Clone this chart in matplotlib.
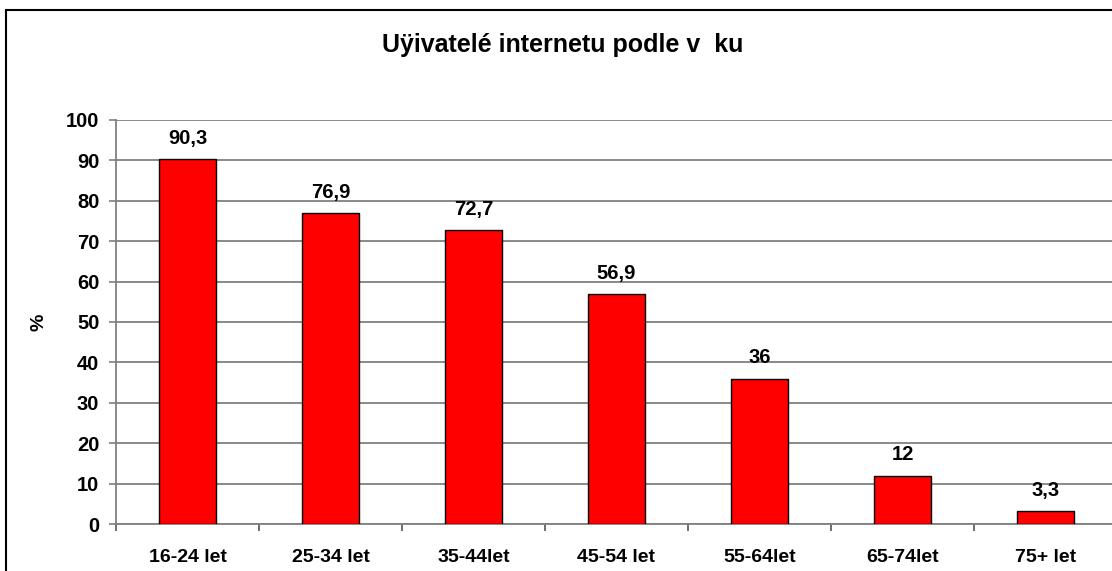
import matplotlib.pyplot as plt
import numpy as np
from matplotlib.patches import Rectangle

categories = ["16-24 let", "25-34 let", "35-44let", "45-54 let", "55-64let", "65-74let", "75+ let"]
values = [90.3, 76.9, 72.7, 56.9, 36, 12, 3.3]
value_labels = ["90,3", "76,9", "72,7", "56,9", "36", "12", "3,3"]
yticks = [0, 10, 20, 30, 40, 50, 60, 70, 80, 90, 100]

plt.rcParams['font.family'] = ['Liberation Sans', 'DejaVu Sans']
plt.rcParams['font.weight'] = 'bold'

fig = plt.figure(figsize=(11.12, 5.71), dpi=100)
ax = fig.add_axes([116 / 1112, 1 - 524 / 571, 1001 / 1112, 404 / 571])

x = np.arange(len(categories))
ax.bar(x, values, width=0.405, color='#FF0000', edgecolor='black', linewidth=1.0, zorder=3)

for xi, v, lbl in zip(x, values, value_labels):
    ax.annotate(lbl, (xi, v), xytext=(0, 8), textcoords='offset points',
                ha='center', va='bottom', fontsize=14.5, fontweight='bold')

ax.set_xlim(-0.5, len(categories) - 0.5)
ax.set_ylim(0, 100)
ax.set_yticks(yticks)
ax.set_yticklabels([str(t) for t in yticks], fontsize=14.5, fontweight='bold')
ax.yaxis.grid(True, color='#808080', linewidth=1.3, zorder=0)
ax.tick_params(axis='y', direction='out', length=5, width=1.2, color='#808080', pad=7)

# category labels in the middle, ticks on the boundaries
ax.set_xticks(np.arange(len(categories) + 1) - 0.5)
ax.set_xticklabels([])
ax.set_xticks(x, minor=True)
ax.set_xticklabels(categories, minor=True, fontsize=14, fontweight='bold')
ax.tick_params(axis='x', which='major', direction='out', length=5, width=1.2, color='#555555')
ax.tick_params(axis='x', which='minor', length=0, pad=18)

for s in ['top', 'right']:
    ax.spines[s].set_visible(False)
ax.spines['left'].set_color('#808080')
ax.spines['bottom'].set_color('#808080')
ax.spines['left'].set_linewidth(1.3)
ax.spines['bottom'].set_linewidth(1.3)

ax.set_ylabel('%', fontsize=14, fontweight='bold', labelpad=13)

fig.text(563 / 1112, 1 - 45 / 571, 'Uÿivatelé internetu podle v  ku',
         ha='center', va='center', fontsize=18, fontweight='bold')

# outer chart frame (cut off at right and bottom)
fig.patches.append(Rectangle((6 / 1112, -0.1), 1.2, 1 - 10 / 571 + 0.1,
                             transform=fig.transFigure, fill=False,
                             edgecolor='black', linewidth=1.5))

fig.savefig('out.png', dpi=100)
